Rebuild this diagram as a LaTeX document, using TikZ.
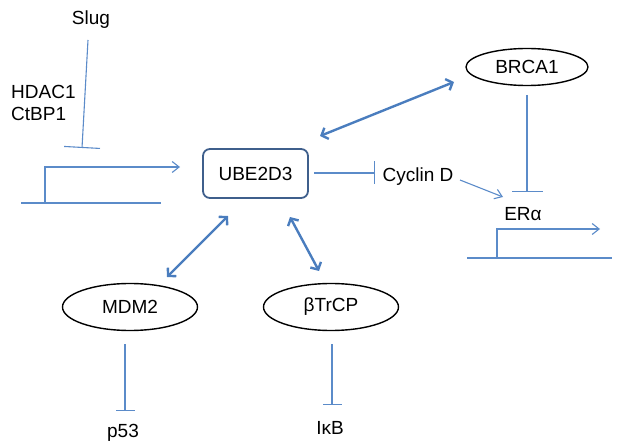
\documentclass[tikz,border=0pt]{standalone}
\usepackage{fontspec}
\setmainfont{Liberation Sans}
\usetikzlibrary{arrows.meta,shapes.geometric}
\definecolor{lineblue}{HTML}{5B8BC9}
\definecolor{arrblue}{HTML}{4A7DBE}
\definecolor{boxblue}{HTML}{3F5F8C}
\tikzset{
  lbl/.style={inner sep=0pt, font=\fontsize{19}{22}\selectfont},
  thinline/.style={draw=lineblue, line width=1.1pt},
  inhib/.style={thinline, -{Bar[width=36pt,line width=1.1pt]}},
  inhibs/.style={thinline, -{Bar[width=19pt,line width=1.1pt]}},
  inhibm/.style={thinline, -{Bar[width=31pt,line width=1.1pt]}},
  inhibv/.style={thinline, -{Bar[width=23pt,line width=1.1pt]}},
  promo/.style={thinline, -{Straight Barb[length=7pt,width=11pt,line width=1.1pt]}},
  dbl/.style={draw=arrblue, line width=2.4pt, {Straight Barb[length=5.5pt,width=12pt]}-{Straight Barb[length=5.5pt,width=12pt]}},
  oval/.style={ellipse, draw=black, line width=1.4pt, inner sep=0pt, font=\fontsize{19}{22}\selectfont},
  ubebox/.style={draw=boxblue, line width=1.8pt, rounded corners=7pt, inner sep=0pt, font=\fontsize{19}{22}\selectfont}
}
\begin{document}
\begin{tikzpicture}[x=1pt,y=-1pt]
\useasboundingbox (0,0) rectangle (625,444);
% text nodes
\node[lbl] (slug) at (91,20) {Slug};
\node[lbl, anchor=west] (hdac) at (11,92) {HDAC1};
\node[lbl, anchor=west] (ctbp) at (11,114) {CtBP1};
\node[lbl] (cyclin) at (418,177) {Cyclin D};
\node[lbl] (era) at (523,214) {ERα};
\node[lbl] (p53) at (123,433) {p53};
\node[lbl] (ikb) at (330,428) {IκB};
% main nodes
\node[ubebox, minimum width=105pt, minimum height=49pt] (ube) at (255.5,173.5) {UBE2D3};
\node[oval, minimum width=122pt, minimum height=37pt] (brca) at (527,67) {BRCA1};
\node[oval, minimum width=135pt, minimum height=47pt] (mdm) at (130,307) {MDM2};
\node[oval, minimum width=135pt, minimum height=47pt] (btrcp) at (331,307) {βTrCP};
% coordinates
\coordinate (slugS) at (88,40);
\coordinate (slugE) at (82,148);
\coordinate (p1a) at (21,203);
\coordinate (p1b) at (161,203);
\coordinate (p1v) at (45,203);
\coordinate (p1t) at (45,167);
\coordinate (p1e) at (180,167);
\coordinate (ubeR) at (314,173);
\coordinate (cycBar) at (375,173);
\coordinate (brcaS) at (527,95);
\coordinate (brcaE) at (527,192);
\coordinate (cycS) at (460,180);
\coordinate (cycE) at (503,197);
\coordinate (p2a) at (467,258);
\coordinate (p2b) at (612,258);
\coordinate (p2v) at (497,258);
\coordinate (p2t) at (497,229);
\coordinate (p2e) at (600,229);
\coordinate (a1) at (320,136);
\coordinate (a2) at (454,82);
\coordinate (b1) at (167,277);
\coordinate (b2) at (228,216);
\coordinate (c1) at (290,217);
\coordinate (c2) at (319,271);
\coordinate (mdmS) at (125,344);
\coordinate (mdmE) at (125,411);
\coordinate (btS) at (332,344);
\coordinate (btE) at (332,405);
% connectors
\draw[inhib] (slugS) -- (slugE);
\draw[thinline] (p1a) -- (p1b);
\draw[promo] (p1v) -- (p1t) -- (p1e);
\draw[inhibv] (ubeR) -- (cycBar);
\draw[inhibm] (brcaS) -- (brcaE);
\draw[thinline, -{Straight Barb[length=7pt,width=10pt,line width=1.1pt]}] (cycS) -- (cycE);
\draw[thinline] (p2a) -- (p2b);
\draw[promo] (p2v) -- (p2t) -- (p2e);
\draw[dbl] (a1) -- (a2);
\draw[dbl] (b1) -- (b2);
\draw[dbl] (c1) -- (c2);
\draw[inhibs] (mdmS) -- (mdmE);
\draw[inhibs] (btS) -- (btE);
\end{tikzpicture}
\end{document}
